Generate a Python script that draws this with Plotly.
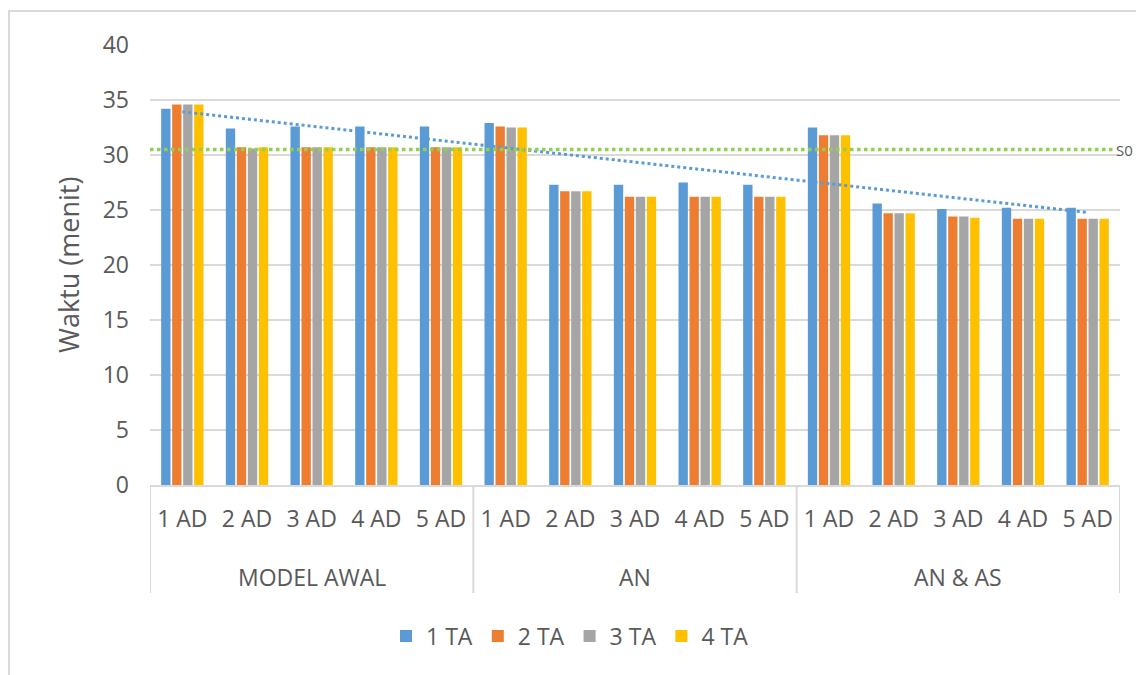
import plotly.graph_objects as go
import numpy as np

groups = ["MODEL AWAL", "AN", "AN & AS"]
subcats = ["1 AD", "2 AD", "3 AD", "4 AD", "5 AD"]
series_names = ["1 TA", "2 TA", "3 TA", "4 TA"]
colors = ["#5B9BD5", "#ED7D31", "#A5A5A5", "#FFC000"]

ta1 = [34.2, 32.4, 32.6, 32.6, 32.6, 32.9, 27.3, 27.3, 27.5, 27.3, 32.5, 25.6, 25.1, 25.2, 25.2]
ta2 = [34.6, 30.7, 30.7, 30.7, 30.7, 32.6, 26.7, 26.2, 26.2, 26.2, 31.8, 24.7, 24.4, 24.2, 24.2]
ta3 = [34.6, 30.6, 30.7, 30.7, 30.7, 32.5, 26.7, 26.2, 26.2, 26.2, 31.8, 24.7, 24.4, 24.2, 24.2]
ta4 = [34.6, 30.7, 30.7, 30.7, 30.7, 32.5, 26.7, 26.2, 26.2, 26.2, 31.8, 24.7, 24.3, 24.2, 24.2]
s0_value = 30.5
yticks = [0, 5, 10, 15, 20, 25, 30, 35, 40]

n_sub = len(subcats)
xpos = list(range(len(groups) * n_sub))
xlabels = [s for _ in groups for s in subcats]

# page is offset 8px by the default body margin
W, H = 1136, 667
ML, MR, MT, MB = 142, 24, 37, 190
FONT = "Open Sans"
TXT = "#595959"
GRID = "#D9D9D9"

fig = go.Figure()
for name, vals, c in zip(series_names, [ta1, ta2, ta3, ta4], colors):
    fig.add_trace(go.Bar(x=xpos, y=vals, name=name, marker=dict(color=c, line=dict(width=0))))

# linear trendline of 1 TA
idx = np.arange(1, len(ta1) + 1)
slope, intercept = np.polyfit(idx, ta1, 1)
trend = (slope * idx + intercept).tolist()
fig.add_trace(go.Scatter(x=xpos, y=trend, mode="lines", showlegend=False,
                         line=dict(color="#5B9BD5", width=3, dash="dot"), hoverinfo="skip"))

pw = W - ML - MR
ph = H - MT - MB

def px_x(p):
    return (p - ML) / pw

def px_y(p):
    return (H - MB - p) / ph

shapes = [
    dict(type="line", xref="paper", yref="y", x0=0, x1=px_x(1105), y0=s0_value, y1=s0_value,
         line=dict(color="#92D050", width=3.5, dash="dot"), layer="above"),
    dict(type="rect", xref="paper", yref="paper", x0=px_x(1), x1=px_x(1160), y0=px_y(3), y1=px_y(700),
         line=dict(color=GRID, width=2), layer="below"),
]
# group dividers
for k in range(len(groups) + 1):
    xd = k * n_sub - 0.5
    shapes.append(dict(type="line", xref="x", yref="paper", x0=xd, x1=xd, y0=0, y1=px_y(585),
                       line=dict(color=GRID, width=2)))

annotations = [
    dict(text="S0", xref="paper", yref="y", x=px_x(1106), y=s0_value, xanchor="left", yanchor="middle",
         showarrow=False, font=dict(family=FONT, size=15, color=TXT)),
    dict(text="Waktu (menit)", xref="paper", yref="paper", x=px_x(60), y=px_y(257), textangle=-90,
         xanchor="center", yanchor="middle", showarrow=False, font=dict(family=FONT, size=27, color=TXT)),
]
for gi, g in enumerate(groups):
    annotations.append(dict(text=g, xref="x", yref="paper", x=gi * n_sub + (n_sub - 1) / 2, y=px_y(569),
                            xanchor="center", yanchor="middle", showarrow=False,
                            font=dict(family=FONT, size=23, color=TXT)))

fig.update_layout(
    width=W, height=H,
    margin=dict(l=ML, r=MR, t=MT, b=MB),
    paper_bgcolor="white", plot_bgcolor="white",
    barmode="group", bargap=0.32, bargroupgap=0.15,
    font=dict(family=FONT, size=23, color=TXT),
    shapes=shapes, annotations=annotations,
    legend=dict(orientation="h", x=px_x(378), xanchor="left", y=px_y(628), yanchor="middle",
                font=dict(family=FONT, size=23, color=TXT), itemwidth=30, traceorder="normal"),
    xaxis=dict(range=[-0.5, len(xpos) - 0.5], tickvals=xpos, ticktext=xlabels,
               showline=True, linecolor=GRID, linewidth=2, showgrid=False, zeroline=False,
               ticks="", ticklabelstandoff=12, tickfont=dict(family=FONT, size=23, color=TXT)),
    yaxis=dict(range=[0, 40], tickvals=yticks, showgrid=True, gridcolor=GRID, gridwidth=2,
               zeroline=False, showline=False, ticks="", ticklabelstandoff=20,
               tickfont=dict(family=FONT, size=23, color=TXT)),
)

fig.write_html("out.html")
